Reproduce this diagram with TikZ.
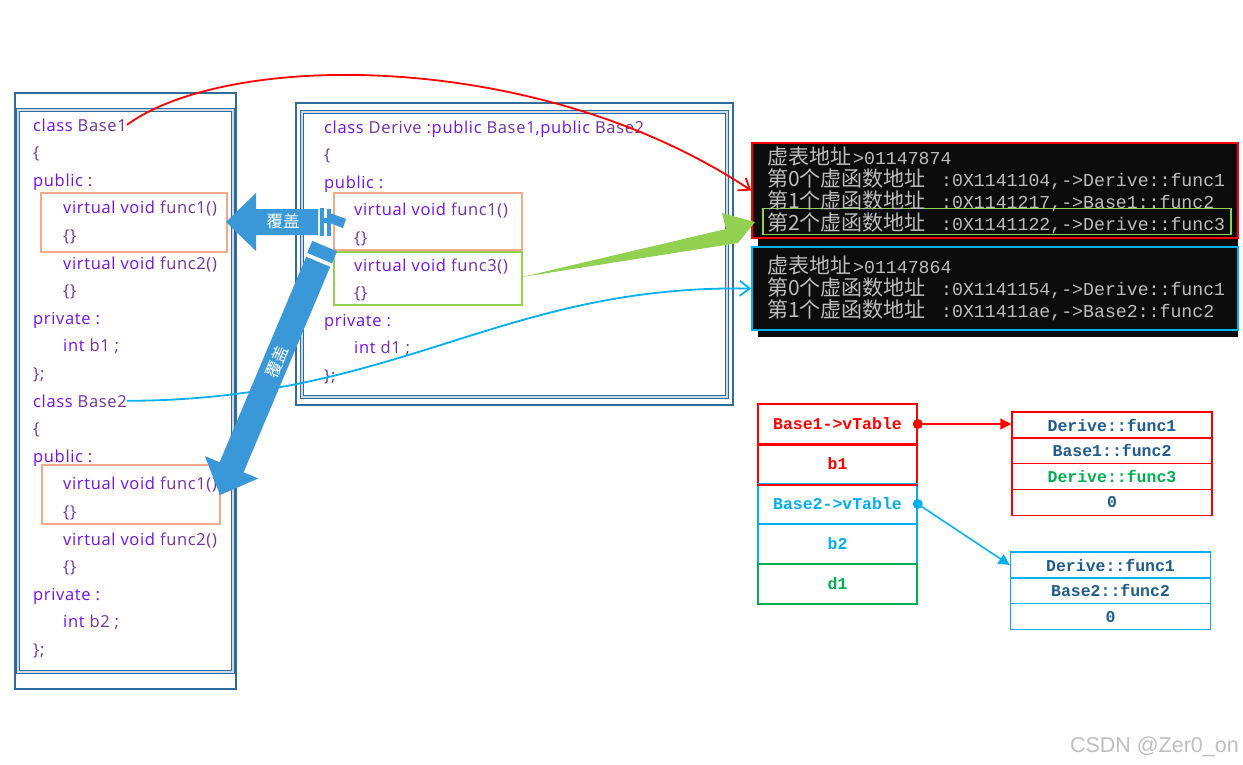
\documentclass[tikz,border=0pt]{standalone}
\usepackage{fontspec}
\setmainfont{Open Sans}
\newfontfamily\codefont{Open Sans}[LetterSpace=4]
\newfontfamily\cjk{Noto Sans CJK SC}
\newfontfamily\monof{Liberation Mono}
\newfontfamily\wmfont{Liberation Sans}
\usetikzlibrary{arrows.meta}
\definecolor{kw}{HTML}{7010F0}
\definecolor{idc}{HTML}{7030A0}
\definecolor{frame}{HTML}{2F6C9C}
\definecolor{salmon}{HTML}{F4A98A}
\definecolor{lgreen}{HTML}{92D050}
\definecolor{conred}{HTML}{FF0000}
\definecolor{cyanb}{HTML}{00B0F0}
\definecolor{mgreen}{HTML}{00B050}
\definecolor{dblue}{HTML}{1F5C8C}
\definecolor{arrowblue}{HTML}{3A98D8}
\definecolor{congray}{HTML}{BDBDBD}
\definecolor{conbg}{HTML}{0C0C0C}
\newcommand{\K}[1]{\textcolor{kw}{#1}}
\newcommand{\I}[1]{\textcolor{idc}{#1}}
\tikzset{
  code/.style={anchor=base west, inner sep=0pt, font=\codefont\fontsize{16.5}{18}\selectfont},
  outerframe/.style={draw=frame, line width=1.4pt},
  innerframe/.style={draw=frame, double=white!75!frame, double distance=1.3pt, line width=1pt},
  hibox/.style={draw=salmon, line width=1.6pt},
  grbox/.style={draw=lgreen, line width=1.6pt},
  conline/.style={anchor=base west, inner sep=0pt, text=congray},
  cjkt/.style={font=\cjk\fontsize{21}{24}\selectfont},
  monot/.style={font=\monof\fontsize{18.2}{20}\selectfont},
  cell/.style={draw, line width=1.5pt, minimum width=159pt, minimum height=40pt, inner sep=0pt, font=\monof\bfseries\fontsize{16.5}{18}\selectfont},
  vcell/.style={draw, line width=1.5pt, minimum width=200pt, minimum height=25.8pt, inner sep=0pt, font=\monof\bfseries\fontsize{16.5}{18}\selectfont, text=dblue},
  bigarrow/.style={fill=arrowblue, draw=none},
  arlab/.style={text=white, inner sep=0pt, font=\cjk\fontsize{16.5}{18}\selectfont},
  curve/.style={line width=1.8pt, -{Straight Barb[length=10pt,width=15pt,line width=1.8pt]}},
}
\begin{document}
\begin{tikzpicture}[x=1pt,y=-1pt]
\useasboundingbox[fill=white] (0,0) rectangle (1243,764);

% ---------- left frame ----------
\draw[outerframe] (15,93) rectangle (236,689);
\draw[innerframe] (18,110) rectangle (233,672);
\draw[hibox] (41,193) rectangle (227,252);
\draw[hibox] (42,465) rectangle (220,524);

\node[code] (a0)  at (33,131)   {\K{class} \I{Base1}};
\node[code] (a1)  at (33,158.6) {\I{\{}};
\node[code] (a2)  at (33,186.2) {\K{public :}};
\node[code] (a3)  at (63,213.8) {\K{virtual void} \I{func1()}};
\node[code] (a4)  at (63,241.4) {\I{\{\}}};
\node[code] (a5)  at (63,269)   {\K{virtual void} \I{func2()}};
\node[code] (a6)  at (63,296.6) {\I{\{\}}};
\node[code] (a7)  at (33,324.2) {\K{private :}};
\node[code] (a8)  at (63,351.8) {\K{int} \I{b1 ;}};
\node[code] (a9)  at (33,379.4) {\I{\};}};
\node[code] (a10) at (33,407)   {\K{class} \I{Base2}};
\node[code] (a11) at (33,434.6) {\I{\{}};
\node[code] (a12) at (33,462.2) {\K{public :}};
\node[code] (a13) at (63,489.8) {\K{virtual void} \I{func1()}};
\node[code] (a14) at (63,517.4) {\I{\{\}}};
\node[code] (a15) at (63,545)   {\K{virtual void} \I{func2()}};
\node[code] (a16) at (63,572.6) {\I{\{\}}};
\node[code] (a17) at (33,600.2) {\K{private :}};
\node[code] (a18) at (63,627.8) {\K{int} \I{b2 ;}};
\node[code] (a19) at (33,655.4) {\I{\};}};

% ---------- derive frame ----------
\draw[outerframe] (296,103) rectangle (733,405);
\draw[innerframe] (302,112) rectangle (727,397);
\draw[hibox] (334,193) rectangle (522,250);
\draw[grbox] (334,252) rectangle (522,305);

\node[code] (d0) at (324,133)   {\K{class} \I{Derive} \K{:public} \I{Base1}\K{,public} \I{Base2}};
\node[code] (d1) at (324,160.6) {\I{\{}};
\node[code] (d2) at (324,188.2) {\K{public :}};
\node[code] (d3) at (354,215.8) {\K{virtual void} \I{func1()}};
\node[code] (d4) at (354,243.4) {\I{\{\}}};
\node[code] (d5) at (354,271)   {\K{virtual void} \I{func3()}};
\node[code] (d6) at (354,298.6) {\I{\{\}}};
\node[code] (d7) at (324,326.2) {\K{private :}};
\node[code] (d8) at (354,353.8) {\K{int} \I{d1 ;}};
\node[code] (d9) at (324,381.4) {\I{\};}};
\coordinate (gtail) at (522,277);

% ---------- console ----------
\fill[conbg] (758,143) rectangle (1238,337);
\node[draw=conred, line width=1.6pt, fill=conbg, minimum width=486pt, minimum height=95pt, inner sep=0pt] (con1) at (995,190.5) {};
\node[draw=cyanb, line width=1.6pt, fill=conbg, minimum width=486pt, minimum height=83pt, inner sep=0pt] (con2) at (995,288.5) {};
\node[draw=lgreen, line width=1.6pt, minimum width=468pt, minimum height=26pt, inner sep=0pt] (g4) at (997,221.5) {};

\node[conline, cjkt] (c1a) at (767,164.5) {虚表地址};
\node[conline, monot] (c1b) at (853,164.5) {>01147874};
\node[conline, cjkt] (c2a) at (767,186.5) {第0个虚函数地址};
\node[conline, monot] (c2b) at (941,186.5) {:0X1141104,->Derive::func1};
\node[conline, cjkt] (c3a) at (767,208.5) {第1个虚函数地址};
\node[conline, monot] (c3b) at (941,208.5) {:0X1141217,->Base1::func2};
\node[conline, cjkt] (c4a) at (767,230.5) {第2个虚函数地址};
\node[conline, monot] (c4b) at (941,230.5) {:0X1141122,->Derive::func3};
\node[conline, cjkt] (c5a) at (767,273.5) {虚表地址};
\node[conline, monot] (c5b) at (853,273.5) {>01147864};
\node[conline, cjkt] (c6a) at (767,295.5) {第0个虚函数地址};
\node[conline, monot] (c6b) at (941,295.5) {:0X1141154,->Derive::func1};
\node[conline, cjkt] (c7a) at (767,317.5) {第1个虚函数地址};
\node[conline, monot] (c7b) at (941,317.5) {:0X11411ae,->Base2::func2};

% ---------- object layout ----------
\node[cell, draw=conred, text=conred] (m1) at (837.5,424) {Base1->vTable};
\node[cell, draw=conred, text=conred] (m2) at (837.5,464) {b1};
\node[cell, draw=cyanb, text=cyanb] (m3) at (837.5,504) {Base2->vTable};
\node[cell, draw=cyanb, text=cyanb] (m4) at (837.5,544) {b2};
\node[cell, draw=mgreen, text=mgreen] (m5) at (837.5,584) {d1};
\draw[conred, line width=1.5pt] (m1.south west) -- (m1.south east);
\draw[conred, line width=1.5pt] (m2.south west) -- (m2.south east);

\node[vcell, draw=conred] (r1) at (1112,425)    {Derive::func1};
\node[vcell, draw=conred] (r2) at (1112,450.8)  {Base1::func2};
\node[vcell, draw=conred, text=mgreen] (r3) at (1112,476.6) {Derive::func3};
\node[vcell, draw=conred] (r4) at (1112,502.4)  {0};

\node[vcell, draw=cyanb] (b1) at (1110.5,565)   {Derive::func1};
\node[vcell, draw=cyanb] (b2) at (1110.5,590.8) {Base2::func2};
\node[vcell, draw=cyanb] (b3) at (1110.5,616.6) {0};

\fill[conred] (m1.east) circle (5pt);
\draw[conred, line width=1.5pt, -{Triangle[length=11pt,width=11pt]}] (m1.east) -- (m1.east -| r1.west);
\fill[cyanb] (m3.east) circle (5pt);
\draw[cyanb, line width=1.5pt, -{Triangle[length=11pt,width=11pt]}] (m3.east) -- (b1.west);

% ---------- connectors ----------
\draw[conred, curve] (a0.east) .. controls (230,50) and (540,50) .. (con1.west);
\draw[cyanb, curve] (a10.east) .. controls (400,400) and (500,285) .. (con2.west);
\fill[lgreen] (gtail) -- (726,229) -- (722,213) -- (755,222) -- (738,243) -- (gtail.south) -- cycle;

% ---------- big blue arrows ----------
\fill[bigarrow] (226,222) -- (256,193) -- (256,209) -- (318,209) -- (318,235) -- (256,235) -- (256,251) -- cycle;
\fill[bigarrow] (319.5,208) rectangle (324,236);
\fill[bigarrow] (327,209) rectangle (331,236);
\fill[bigarrow] (319.5,218) rectangle (331,223);
\fill[bigarrow] (330,213) -- (346,219) -- (343,228) -- (327,222) -- cycle;
\node[arlab] (lab1) at (283,221) {覆盖};

\fill[bigarrow] (220,495) -- (258.3,478.5) -- (243.6,472.3) -- (330.2,266.8) -- (306.2,256.8) -- (219.6,462.3) -- (204.9,456.1) -- cycle;
\fill[bigarrow] (332,263.3) -- (307.2,252.9) -- (312.3,240.9) -- (337.1,251.3) -- cycle;
\node[arlab, rotate=67] (lab2) at (277,362) {覆盖};

% ---------- watermark ----------
\node[anchor=base east, inner sep=0pt, text=black!25, font=\wmfont\fontsize{21.5}{24}\selectfont] (wm) at (1239,752) {CSDN @Zer0\_on};
\end{tikzpicture}
\end{document}
